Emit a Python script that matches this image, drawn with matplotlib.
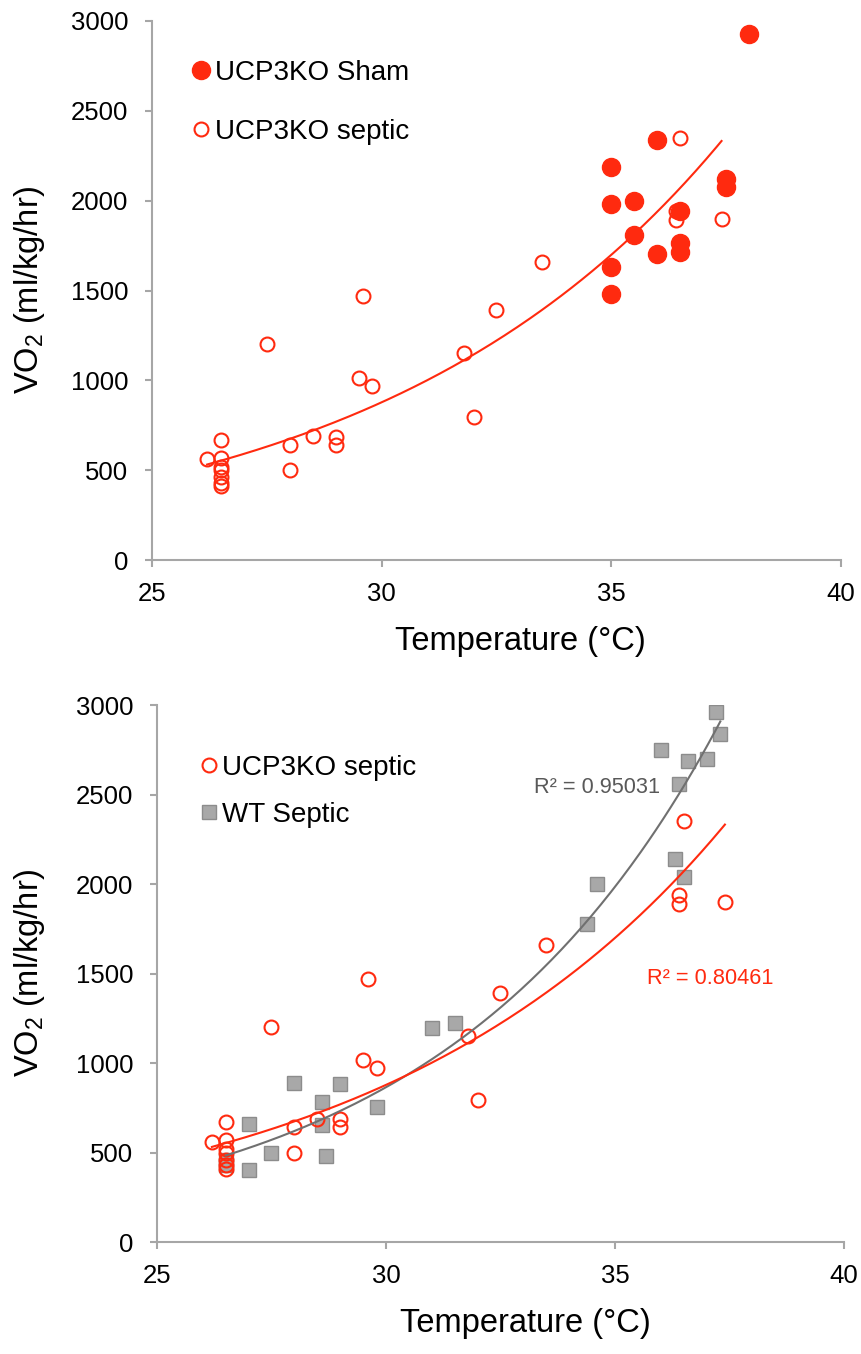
import matplotlib
matplotlib.use('Agg')
import matplotlib.pyplot as plt
import numpy as np

plt.rcParams['font.family'] = ['Liberation Sans', 'DejaVu Sans']
plt.rcParams['mathtext.fontset'] = 'custom'
plt.rcParams['mathtext.rm'] = 'Liberation Sans'
plt.rcParams['mathtext.it'] = 'Liberation Sans:italic'

# UCP3KO sham (filled red circles, top panel only)
sham_temp = [35, 35, 35, 35, 35.5, 35.5, 36, 36, 36.5, 36.5, 36.5, 37.5, 37.5, 38]
sham_vo2 = [2190, 1980, 1630, 1480, 2000, 1810, 2340, 1705, 1940, 1765, 1715, 2120, 2075, 2930]

# UCP3KO septic (open red circles, both panels)
septic_temp = [26.2, 26.5, 26.5, 26.5, 26.5, 26.5, 26.5, 26.5, 27.5, 28.0, 28.0, 28.5,
               29.0, 29.0, 29.5, 29.6, 29.8, 31.8, 32.0, 32.5, 33.5, 36.4, 36.4, 36.5, 37.4]
septic_vo2 = [560, 670, 570, 520, 500, 460, 430, 410, 1200, 640, 500, 690,
              685, 640, 1015, 1470, 970, 1150, 795, 1390, 1660, 1940, 1890, 2350, 1900]

# WT septic (grey squares, bottom panel)
wt_temp = [26.5, 26.5, 27.0, 27.0, 27.5, 28.0, 28.6, 28.6, 28.7, 29.0, 29.8, 31.0,
           31.5, 34.4, 34.6, 36.0, 36.3, 36.4, 36.5, 36.6, 37.0, 37.2, 37.3]
wt_vo2 = [460, 430, 660, 405, 500, 890, 785, 655, 480, 885, 755, 1195,
          1225, 1775, 2000, 2750, 2140, 2560, 2040, 2690, 2700, 2960, 2840]

r2_wt = 'R² = 0.95031'
r2_ko = 'R² = 0.80461'

RED = '#ff2a0f'
GREY_FILL = '#a8a8a8'
GREY_EDGE = '#8c8c8c'
GREY_LINE = '#707070'
SPINE = '#a6a6a6'


def expfit(x, y):
    # excel-style exponential trendline
    x = np.asarray(x, float)
    y = np.asarray(y, float)
    b, lna = np.polyfit(x, np.log(y), 1)
    xx = np.linspace(x.min(), x.max(), 200)
    return xx, np.exp(lna) * np.exp(b * xx)


def style(ax):
    ax.set_xlim(25, 40)
    ax.set_ylim(0, 3000)
    ax.set_xticks([25, 30, 35, 40])
    ax.set_yticks(range(0, 3001, 500))
    for s in ['top', 'right']:
        ax.spines[s].set_visible(False)
    for s in ['left', 'bottom']:
        ax.spines[s].set_color(SPINE)
        ax.spines[s].set_linewidth(1.5)
    ax.tick_params(axis='both', direction='out', length=5, width=1.5, color=SPINE,
                   labelsize=18.5)
    ax.tick_params(axis='x', pad=11)
    ax.tick_params(axis='y', pad=12)
    ax.set_xlabel('Temperature (°C)', fontsize=23.5)
    ax.set_ylabel('VO$_2$ (ml/kg/hr)', fontsize=23.5)


fig = plt.figure(figsize=(8.62, 13.54), dpi=100)

# top panel
ax1 = fig.add_axes([0.1763, 0.5864, 0.7993, 0.3981])
ax1.plot(sham_temp, sham_vo2, 'o', color=RED, markersize=13, label='UCP3KO Sham',
         clip_on=False, zorder=3)
ax1.plot(septic_temp, septic_vo2, 'o', mfc='none', mec=RED, mew=1.5, markersize=10,
         label='UCP3KO septic', clip_on=False, zorder=3)
xx, yy = expfit(septic_temp, septic_vo2)
ax1.plot(xx, yy, color=RED, lw=1.5, zorder=4)
style(ax1)
ax1.xaxis.set_label_coords(0.534, -0.122)
ax1.yaxis.set_label_coords(-0.152, 0.5)
ax1.legend(loc='upper left', bbox_to_anchor=(0.055, 0.928), frameon=False, fontsize=20,
           handlelength=0.8, handletextpad=0.09, labelspacing=1.2, borderpad=0,
           borderaxespad=0, numpoints=1)

# bottom panel
ax2 = fig.add_axes([0.1821, 0.0827, 0.7970, 0.3966])
ax2.plot(wt_temp, wt_vo2, 's', color=GREY_FILL, mec=GREY_EDGE, mew=1, markersize=10,
         label='WT Septic', zorder=2)
ax2.plot(septic_temp, septic_vo2, 'o', mfc='none', mec=RED, mew=1.5, markersize=10,
         label='UCP3KO septic', zorder=3)
xw, yw = expfit(wt_temp, wt_vo2)
ax2.plot(xw, yw, color=GREY_LINE, lw=1.5, zorder=4)
xk, yk = expfit(septic_temp, septic_vo2)
ax2.plot(xk, yk, color=RED, lw=1.5, zorder=4)
ax2.text(33.23, 2542, r2_wt, color='#595959', fontsize=15.7, va='center', ha='left')
ax2.text(35.70, 1475, r2_ko, color=RED, fontsize=15.7, va='center', ha='left')
style(ax2)
ax2.xaxis.set_label_coords(0.536, -0.123)
ax2.yaxis.set_label_coords(-0.160, 0.5)
h, l = ax2.get_legend_handles_labels()
ax2.legend([h[1], h[0]], [l[1], l[0]], loc='upper left', bbox_to_anchor=(0.0595, 0.907),
           frameon=False, fontsize=20, handlelength=0.8, handletextpad=0.08,
           labelspacing=0.74, borderpad=0, borderaxespad=0, numpoints=1)

fig.savefig('out.png', dpi=100)
